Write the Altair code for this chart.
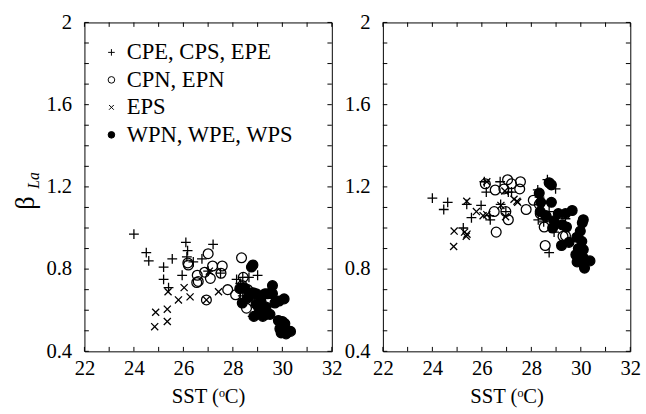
import altair as alt
import pandas as pd

groups = ["CPE, CPS, EPE", "CPN, EPN", "EPS", "WPN, WPE, WPS"]
x_title = "SST (ᵒC)"
y_title_main = ["β"]
y_title_sub = ["La"]

x_label_values = [22, 24, 26, 28, 30, 32]
y_label_values = [0.4, 0.8, 1.2, 1.6, 2.0]
x_tick_values = [22, 23, 24, 25, 26, 27, 28, 29, 30, 31, 32]
y_tick_values = [0.4, 0.5, 0.6, 0.7, 0.8, 0.9, 1.0, 1.1, 1.2, 1.3, 1.4, 1.5, 1.6, 1.7, 1.8, 1.9, 2.0]

# ---------------- left panel ----------------
left_plus_sst = [24.0, 24.5, 24.6, 25.2, 25.55, 25.2, 25.4, 26.1, 26.17, 26.14, 26.4, 26.75, 27.2, 25.95,
                 27.0, 27.5, 28.15, 28.4, 28.65, 29.0, 28.8, 28.4, 28.8, 29.0, 28.3, 29.35]
left_plus_beta = [0.97, 0.88, 0.84, 0.81, 0.85, 0.75, 0.71, 0.93, 0.89, 0.86, 0.835, 0.85, 0.92, 0.77,
                  0.79, 0.78, 0.75, 0.76, 0.76, 0.77, 0.81, 0.67, 0.57, 0.585, 0.73, 0.60]

left_open_sst = [26.2, 26.18, 26.56, 26.54, 26.6, 26.86, 27.0, 27.09, 27.18, 27.57, 27.52, 27.79, 28.11,
                 28.35, 28.42, 28.55, 28.48, 28.68, 29.47, 26.93, 28.38, 28.6]
left_open_beta = [0.82, 0.83, 0.77, 0.735, 0.74, 0.785, 0.875, 0.755, 0.815, 0.815, 0.78, 0.70, 0.675,
                  0.855, 0.76, 0.61, 0.67, 0.67, 0.64, 0.65, 0.72, 0.70]

left_x_sst = [24.88, 24.84, 25.35, 25.35, 25.38, 25.8, 26.03, 26.27, 27.42, 26.93, 27.05]
left_x_beta = [0.59, 0.52, 0.605, 0.545, 0.69, 0.65, 0.71, 0.665, 0.69, 0.65, 0.79]

left_fill_sst = [28.81, 28.75, 28.28, 28.5, 28.38, 28.6, 28.81, 28.85, 28.94, 29.14, 29.21, 29.34, 29.15,
                 29.34, 29.41, 29.6, 29.6, 29.5, 29.87, 30.07, 29.84, 30.0, 30.1, 29.9, 30.07, 30.15,
                 30.33, 29.95, 29.7, 29.3, 28.95, 29.05]
left_fill_beta = [0.82, 0.81, 0.705, 0.705, 0.635, 0.66, 0.685, 0.57, 0.63, 0.64, 0.57, 0.58, 0.60,
                  0.615, 0.68, 0.72, 0.68, 0.58, 0.645, 0.655, 0.55, 0.545, 0.535, 0.51, 0.495, 0.485,
                  0.497, 0.49, 0.635, 0.68, 0.68, 0.61]

# ---------------- right panel ----------------
right_plus_sst = [24.0, 24.62, 24.46, 25.39, 25.97, 25.58, 25.25, 26.34, 26.1, 26.74, 26.18, 27.07, 27.2,
                  26.76, 26.97, 28.26, 28.65, 28.98, 28.33, 28.72, 28.28, 28.42, 29.38, 28.92, 28.72,
                  26.3, 28.5]
right_plus_beta = [1.145, 1.125, 1.09, 1.115, 1.11, 1.05, 1.0, 1.04, 1.225, 1.225, 1.175, 1.175, 1.175,
                   1.115, 1.08, 1.185, 1.235, 1.19, 1.15, 1.08, 1.04, 1.07, 1.045, 0.98, 0.88,
                   1.06, 1.03]

right_open_sst = [26.14, 26.54, 26.89, 27.04, 27.2, 27.53, 27.56, 26.5, 26.97, 27.07, 26.58, 27.79, 28.08,
                  28.32, 28.36, 28.52, 28.56, 29.28, 29.38, 28.6]
right_open_beta = [1.215, 1.185, 1.19, 1.235, 1.215, 1.19, 1.225, 1.08, 1.08, 1.04, 0.98, 1.09, 1.135,
                   1.115, 1.07, 1.005, 0.915, 0.96, 0.962, 1.055]

right_x_sst = [24.86, 24.88, 25.39, 25.3, 25.4, 25.37, 25.78, 26.05, 26.2, 26.77, 26.93, 26.96, 27.42,
               27.45, 26.2, 27.3]
right_x_beta = [0.91, 0.985, 1.13, 0.98, 0.97, 0.96, 1.08, 1.06, 1.065, 1.11, 1.18, 1.055, 1.13,
                1.125, 1.225, 1.14]

right_fill_sst = [28.72, 28.81, 28.32, 28.38, 28.81, 28.36, 28.59, 28.92, 28.86, 29.09, 29.38, 29.65,
                  29.25, 29.42, 30.1, 30.06, 29.98, 29.84, 29.52, 29.22, 30.04, 30.1, 29.9, 29.9, 30.1,
                  30.05, 30.37, 30.15, 29.85, 29.8, 30.0]
right_fill_beta = [1.22, 1.21, 1.17, 1.125, 1.125, 1.08, 1.06, 1.035, 1.0, 1.07, 1.07, 1.085,
                   1.015, 1.005, 1.04, 1.025, 0.985, 0.955, 0.93, 0.915, 0.935, 0.895, 0.90, 0.855, 0.855,
                   0.83, 0.84, 0.805, 0.835, 0.87, 0.875]

PLUS = "M-1,0L1,0M0,-1L0,1"
CROSS = "M-0.72,-0.72L0.72,0.72M-0.72,0.72L0.72,-0.72"
FONT = "Liberation Serif"
W, H = 252, 335
TL = 4.5


def frame(plus, opn, cross, fill):
    rows = []
    for g, (xs, ys) in zip(groups, [plus, opn, cross, fill]):
        for a, b in zip(xs, ys):
            rows.append({"sst": a, "beta": b, "group": g})
    return pd.DataFrame(rows)


left_df = frame((left_plus_sst, left_plus_beta), (left_open_sst, left_open_beta),
                (left_x_sst, left_x_beta), (left_fill_sst, left_fill_beta))
right_df = frame((right_plus_sst, right_plus_beta), (right_open_sst, right_open_beta),
                 (right_x_sst, right_x_beta), (right_fill_sst, right_fill_beta))

xsc = alt.Scale(domain=[22, 32], nice=False, zero=False)
ysc = alt.Scale(domain=[0.4, 2.0], nice=False, zero=False)
shape_scale = alt.Scale(domain=groups, range=[PLUS, "circle", CROSS, "circle"])
fill_scale = alt.Scale(domain=groups, range=["transparent", "transparent", "transparent", "black"])
stroke_scale = alt.Scale(domain=groups, range=["black", "black", "black", "black"])

x_axis = alt.Axis(values=x_label_values, format="d", ticks=False, tickSize=0, domain=False, grid=False,
                  labelFlush=False, labelOverlap=False, labelPadding=7, titlePadding=7)
y_axis = alt.Axis(values=y_label_values, format="~g", ticks=False, tickSize=0, domain=False, grid=False,
                  labelFlush=False, labelOverlap=False, labelPadding=13)


def panel(df, show_legend):
    if show_legend:
        leg = alt.Legend(orient="none", legendX=16, legendY=19, title=None, symbolSize=45,
                         symbolStrokeWidth=1, labelFontSize=23, labelLimit=0,
                         labelFont=FONT, labelColor="black", labelOffset=4, rowPadding=4, padding=0)
    else:
        leg = None
    shape = alt.Shape("group:N", scale=shape_scale, legend=leg)
    fill = alt.Fill("group:N", scale=fill_scale, legend=leg)
    stroke = alt.Stroke("group:N", scale=stroke_scale, legend=leg)

    pts = alt.Chart(df).mark_point(strokeWidth=1.3, opacity=1, size=100).encode(
        x=alt.X("sst:Q", scale=xsc, axis=x_axis, title=x_title),
        y=alt.Y("beta:Q", scale=ysc, axis=y_axis, title=None),
        shape=shape,
        fill=fill,
        stroke=stroke,
    )
    ydf = pd.DataFrame({"v": y_tick_values})
    xdf = pd.DataFrame({"v": x_tick_values})
    t_left = alt.Chart(ydf).mark_rule(color="black", strokeWidth=1).encode(
        y=alt.Y("v:Q", scale=ysc, title=None), x=alt.value(0), x2=alt.value(TL))
    t_right = alt.Chart(ydf).mark_rule(color="black", strokeWidth=1).encode(
        y=alt.Y("v:Q", scale=ysc, title=None), x=alt.value(W - TL), x2=alt.value(W))
    t_bot = alt.Chart(xdf).mark_rule(color="black", strokeWidth=1).encode(
        x=alt.X("v:Q", scale=xsc, title=x_title), y=alt.value(H - TL), y2=alt.value(H))
    t_top = alt.Chart(xdf).mark_rule(color="black", strokeWidth=1).encode(
        x=alt.X("v:Q", scale=xsc, title=x_title), y=alt.value(0), y2=alt.value(TL))
    layers = [pts, t_left, t_right, t_bot, t_top]
    if show_legend:
        beta = alt.Chart(pd.DataFrame({"t": y_title_main})).mark_text(
            angle=270, font=FONT, fontSize=27, color="black").encode(
            text="t:N", x=alt.value(-59), y=alt.value(184))
        sub = alt.Chart(pd.DataFrame({"t": y_title_sub})).mark_text(
            angle=270, font=FONT, fontSize=16, fontStyle="italic", color="black").encode(
            text="t:N", x=alt.value(-51), y=alt.value(161))
        layers += [beta, sub]
    return alt.layer(*layers).properties(width=W, height=H)


chart = alt.hconcat(panel(left_df, True), panel(right_df, False), spacing=52, bounds="flush").resolve_scale(
    shape="independent", fill="independent", stroke="independent"
).resolve_legend(shape="independent", fill="independent", stroke="independent").configure_view(
    stroke="black", strokeWidth=1
).configure_axis(
    labelFont=FONT, labelFontSize=21, labelColor="black", titleFont=FONT, titleFontSize=21,
    titleColor="black", titleFontWeight="normal"
).properties(
    padding={"left": 12, "top": 7, "right": 5, "bottom": 5}, background="white"
)

chart.save("out.html", embed_options={"renderer": "svg", "actions": False})
